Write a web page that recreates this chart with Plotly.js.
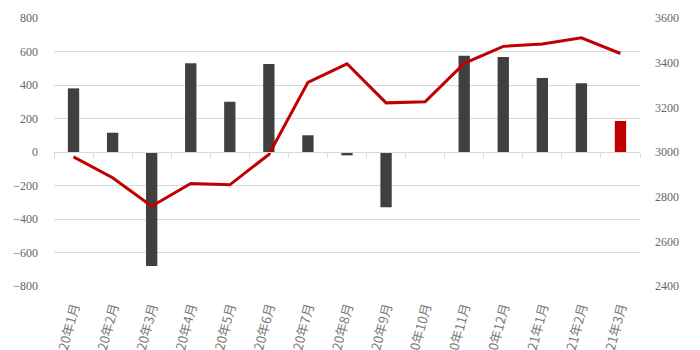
<!DOCTYPE html>
<html>
<head>
<meta charset="utf-8">
<script src="https://cdn.plot.ly/plotly-3.0.1.min.js"></script>
<style>html,body{margin:0;padding:0;background:#fff;}#chart{width:700px;height:350px;}</style>
</head>
<body>
<div id="chart"></div>
<script>
const categories = ["2020年1月","2020年2月","2020年3月","2020年4月","2020年5月","2020年6月","2020年7月","2020年8月","2020年9月","2020年10月","2020年11月","2020年12月","2021年1月","2021年2月","2021年3月"];
const barValues = [380, 115, -680, 530, 300, 525, 100, -20, -330, 0, 575, 567, 442, 410, 185];
const lineValues = [2978, 2885, 2757, 2859, 2853, 2989, 3312, 3395, 3220, 3225, 3397, 3473, 3484, 3511, 3441];
const barColors = categories.map((c, i) => i === categories.length - 1 ? "#C00000" : "#404040");

const gray = "#666666";
const grid = "#D9D9D9";

const traces = [
  {
    type: "bar", x: categories, y: barValues, xaxis: "x", yaxis: "y",
    marker: {color: barColors}, width: 0.29, hoverinfo: "skip"
  },
  {
    type: "scatter", mode: "lines", x: categories, y: lineValues, xaxis: "x2", yaxis: "y2",
    line: {color: "#C00000", width: 3}, hoverinfo: "skip"
  }
];

const layout = {
  width: 700, height: 350,
  margin: {l: 54, r: 60, t: 18, b: 64},
  paper_bgcolor: "#fff", plot_bgcolor: "#fff",
  showlegend: false,
  xaxis: {
    type: "category", range: [-0.5, 14.5], showgrid: false, showline: false, zeroline: false,
    ticks: "", tickangle: -75, ticklabelstandoff: 10,
    tickfont: {family: "Noto Sans CJK SC", size: 13, color: "#7a7a7a"}
  },
  xaxis2: {
    type: "category", range: [-0.5, 14.5], overlaying: "x", anchor: "free", position: 0.5,
    showgrid: false, showline: true, linecolor: grid, linewidth: 1, zeroline: false,
    ticks: "outside", tickson: "boundaries", ticklen: 5, tickcolor: grid,
    showticklabels: false
  },
  yaxis: {
    range: [-800, 800], dtick: 200, tick0: 0, showgrid: true, gridcolor: grid, gridwidth: 1,
    zeroline: false, showline: false, ticks: "", ticklabelstandoff: 15,
    tickfont: {family: "Liberation Serif", size: 12, color: gray}
  },
  yaxis2: {
    range: [2400, 3600], dtick: 200, tick0: 2400, overlaying: "y", side: "right", anchor: "x2",
    showgrid: false, zeroline: false, showline: false, ticks: "", ticklabelstandoff: 14,
    tickfont: {family: "Liberation Serif", size: 12, color: gray}
  }
};

Plotly.newPlot("chart", traces, layout, {displayModeBar: false, staticPlot: true});
</script>
</body>
</html>
